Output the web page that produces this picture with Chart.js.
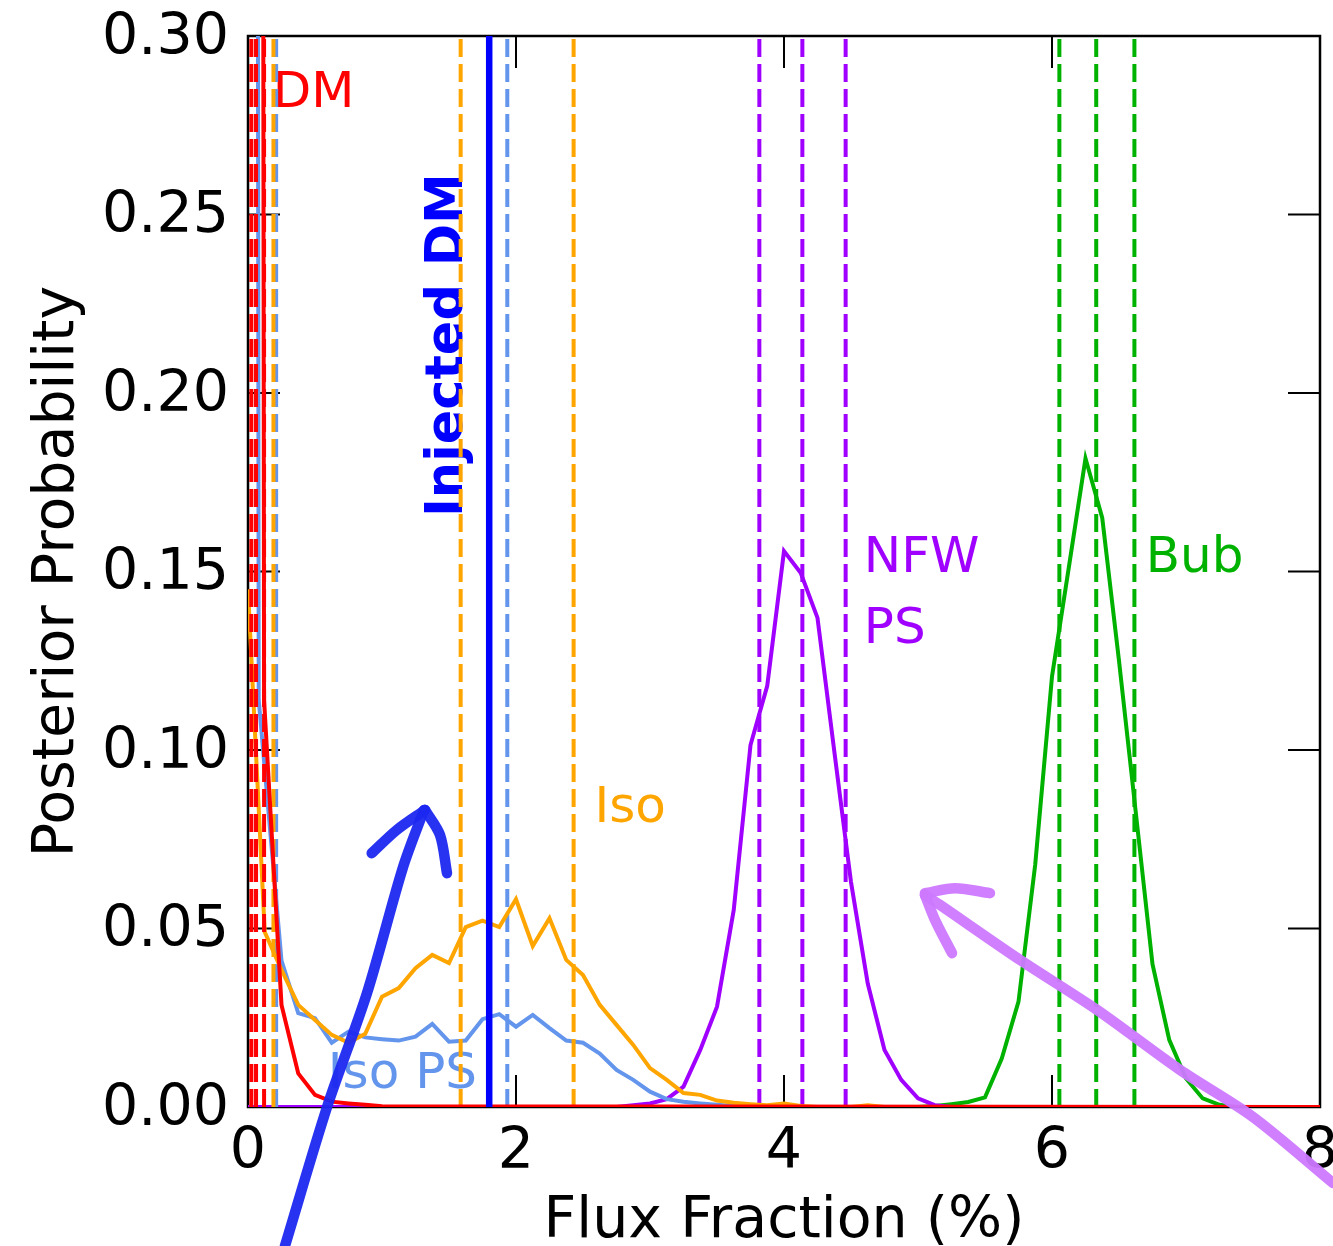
<!DOCTYPE html>
<html>
<head>
<meta charset="utf-8">
<script src="https://cdn.jsdelivr.net/npm/chart.js@4/dist/chart.umd.min.js"></script>
<style>
html,body{margin:0;padding:0;background:#ffffff;}
canvas{display:block;}
</style>
</head>
<body>
<canvas id="c" width="1333" height="1246"></canvas>
<script>
// ---------------- data ----------------
const xTicks = [0, 2, 4, 6, 8];
const yTicks = [0.00, 0.05, 0.10, 0.15, 0.20, 0.25, 0.30];

// DM posterior
const dmX = [0.105, 0.12, 0.25, 0.375, 0.5, 0.625, 0.75, 0.875, 1.0, 8.0];
const dmY = [0.60, 0.114, 0.0286, 0.0094, 0.0034, 0.0015, 0.0010, 0.0006, 0.0002, 0];

// Iso posterior
const isoX = [0, 0.125, 0.25, 0.375, 0.5, 0.625, 0.75, 0.875, 1.0, 1.125, 1.25, 1.375, 1.5, 1.625, 1.75, 1.875, 2.0, 2.125, 2.25, 2.375, 2.5, 2.625, 2.75, 2.875, 3.0, 3.125, 3.25, 3.375, 3.5, 3.625, 3.75, 3.875, 4.0, 4.125, 4.25, 4.5, 4.625, 4.75, 8.0];
const isoY = [0.145, 0.049, 0.0384, 0.0286, 0.0244, 0.0202, 0.0180, 0.0205, 0.0309, 0.0333, 0.0389, 0.0426, 0.0403, 0.0504, 0.0522, 0.0504, 0.0582, 0.0451, 0.0529, 0.0412, 0.0370, 0.0286, 0.0230, 0.0174, 0.0109, 0.0076, 0.0039, 0.0034, 0.0018, 0.0012, 0.0008, 0.0005, 0.0010, 0.0003, 0, 0, 0.0005, 0, 0];

// Iso PS posterior
const isoPsX = [0.065, 0.08, 0.25, 0.375, 0.5, 0.625, 0.75, 0.875, 1.0, 1.125, 1.25, 1.375, 1.5, 1.625, 1.75, 1.875, 2.0, 2.125, 2.25, 2.375, 2.5, 2.625, 2.75, 2.875, 3.0, 3.125, 3.25, 3.375, 3.5, 3.625, 3.75, 8.0];
const isoPsY = [0.60, 0.114, 0.041, 0.0263, 0.0249, 0.0180, 0.0211, 0.0195, 0.0190, 0.0186, 0.0197, 0.0233, 0.0183, 0.0186, 0.0246, 0.0260, 0.0225, 0.0258, 0.0221, 0.0186, 0.0180, 0.0150, 0.0104, 0.0076, 0.0043, 0.0022, 0.0015, 0.0010, 0.0006, 0.0003, 0, 0];

// NFW PS posterior
const nfwX = [0, 2.75, 2.875, 3.0, 3.125, 3.25, 3.375, 3.5, 3.625, 3.75, 3.875, 4.0, 4.125, 4.25, 4.375, 4.5, 4.625, 4.75, 4.875, 5.0, 5.125, 5.25, 8.0];
const nfwY = [0, 0, 0.0005, 0.0010, 0.0022, 0.0057, 0.0160, 0.0281, 0.0552, 0.1014, 0.1180, 0.1557, 0.1496, 0.1370, 0.0997, 0.0630, 0.0346, 0.0160, 0.0076, 0.0024, 0.0005, 0, 0];

// Bubbles posterior
const bubX = [0, 5.0, 5.125, 5.25, 5.375, 5.5, 5.625, 5.75, 5.875, 6.0, 6.125, 6.25, 6.375, 6.5, 6.625, 6.75, 6.875, 7.0, 7.125, 7.25, 7.375, 8.0];
const bubY = [0, 0, 0.0003, 0.0008, 0.0014, 0.0027, 0.0136, 0.0295, 0.0680, 0.1206, 0.1510, 0.1817, 0.1650, 0.1250, 0.0826, 0.0400, 0.0188, 0.0080, 0.0024, 0.0006, 0, 0];

// credible-interval lines (16 / 50 / 84 %)
const dmQuant = [0.025, 0.06, 0.12];
const isoQuant = [0.19, 1.587, 2.43];
const isoPsQuant = [0.06, 0.21, 1.935];
const nfwQuant = [3.816, 4.137, 4.46];
const bubQuant = [6.055, 6.33, 6.615];
const injectedDM = 1.8;

// hand-drawn arrows (data coordinates)
const blueArrowShaftX = [0.276, 0.590, 0.888, 1.157, 1.313];
const blueArrowShaftY = [-0.0389, 0.0, 0.0319, 0.0672, 0.0832];
const blueArrowLeftX = [0.923, 1.110, 1.321];
const blueArrowLeftY = [0.0711, 0.0776, 0.0832];
const blueArrowRightX = [1.321, 1.433, 1.485];
const blueArrowRightY = [0.0832, 0.0762, 0.0655];
const purpleArrowShaftX = [8.097, 7.5, 6.955, 6.336, 5.761, 5.164, 5.052];
const purpleArrowShaftY = [-0.0213, -0.0028, 0.0104, 0.0272, 0.0412, 0.0566, 0.0594];
const purpleArrowTopX = [5.052, 5.276, 5.537];
const purpleArrowTopY = [0.0599, 0.0613, 0.0599];
const purpleArrowLowX = [5.052, 5.127, 5.254];
const purpleArrowLowY = [0.0594, 0.0524, 0.0431];

// ---------------- styling ----------------
const C = {
  dm: '#FF0000', iso: '#FFA500', isoPs: '#6495ED', nfw: '#A000FF', bub: '#00B200',
  inj: '#0000FF', blueArrow: 'rgba(28,40,240,0.95)', purpleArrow: 'rgba(204,120,255,0.95)'
};
const FONT = '"DejaVu Sans", "Liberation Sans", sans-serif';

const pts = (xs, ys) => xs.map((x, i) => ({ x: x, y: ys[i] }));
const vline = (x) => [{ x: x, y: 0 }, { x: x, y: 0.30 }];

const datasets = [];
let ord = 1000;
function addCurve(xs, ys, color, width) {
  datasets.push({ data: pts(xs, ys), borderColor: color, borderWidth: width || 4, showLine: true,
    pointRadius: 0, fill: false, order: ord--, borderJoinStyle: 'miter' });
}
function addQuant(list, color, width) {
  list.forEach(q => datasets.push({ data: vline(q), borderColor: color, borderWidth: width || 4,
    borderDash: [18, 7], showLine: true, pointRadius: 0, fill: false, order: ord-- }));
}
function addArrow(xs, ys, color) {
  datasets.push({ data: pts(xs, ys), borderColor: color, borderWidth: 10.5, showLine: true,
    pointRadius: 0, fill: false, clip: false, borderCapStyle: 'round', borderJoinStyle: 'round',
    tension: 0.3, order: ord-- });
}

addCurve(bubX, bubY, C.bub); addQuant(bubQuant, C.bub);
addCurve(nfwX, nfwY, C.nfw); addQuant(nfwQuant, C.nfw);
addCurve(isoPsX, isoPsY, C.isoPs); addQuant(isoPsQuant, C.isoPs);
addCurve(isoX, isoY, C.iso); addQuant(isoQuant, C.iso);
addCurve(dmX, dmY, C.dm); addQuant(dmQuant, C.dm);
datasets.push({ data: vline(injectedDM), borderColor: C.inj, borderWidth: 6.5, showLine: true,
  pointRadius: 0, fill: false, order: ord-- });
addArrow(blueArrowShaftX, blueArrowShaftY, C.blueArrow);
addArrow(blueArrowLeftX, blueArrowLeftY, C.blueArrow);
addArrow(blueArrowRightX, blueArrowRightY, C.blueArrow);
addArrow(purpleArrowShaftX, purpleArrowShaftY, C.purpleArrow);
addArrow(purpleArrowTopX, purpleArrowTopY, C.purpleArrow);
addArrow(purpleArrowLowX, purpleArrowLowY, C.purpleArrow);

// text annotations (data coordinates, alphabetic baseline, left aligned)
const annotations = [
  { text: 'DM', x: 0.185, y: 0.2802, color: C.dm },
  { text: 'Iso', x: 2.585, y: 0.0798, color: C.iso },
  { text: 'NFW', x: 4.595, y: 0.1499, color: C.nfw },
  { text: 'PS', x: 4.595, y: 0.1300, color: C.nfw },
  { text: 'Bub', x: 6.70, y: 0.1499, color: C.bub },
  { text: 'Iso PS', x: 0.596, y: 0.0052, color: C.isoPs }
];
const injLabel = { text: 'Injected DM', x: 1.595, y: 0.2134, color: C.inj };

const framePlugin = {
  id: 'frame',
  beforeDatasetsDraw(chart) {
    const { ctx, chartArea: a, scales: { x, y } } = chart;
    ctx.save();
    // text annotations (under the lines)
    ctx.textBaseline = 'alphabetic';
    ctx.textAlign = 'left';
    ctx.font = '50px ' + FONT;
    annotations.forEach(t => {
      ctx.fillStyle = t.color;
      ctx.fillText(t.text, x.getPixelForValue(t.x), y.getPixelForValue(t.y));
    });
    ctx.save();
    ctx.translate(x.getPixelForValue(injLabel.x), y.getPixelForValue(injLabel.y));
    ctx.rotate(-Math.PI / 2);
    ctx.textAlign = 'center';
    ctx.font = 'bold 51px ' + FONT;
    ctx.fillStyle = injLabel.color;
    ctx.fillText(injLabel.text, 0, 0);
    ctx.restore();

    // axis titles
    ctx.fillStyle = '#000';
    ctx.font = '57px ' + FONT;
    ctx.textAlign = 'center';
    ctx.textBaseline = 'alphabetic';
    ctx.fillText('Flux Fraction (%)', (a.left + a.right) / 2, a.bottom + 130);
    ctx.save();
    ctx.translate(58, (a.top + a.bottom) / 2);
    ctx.rotate(-Math.PI / 2);
    ctx.textBaseline = 'middle';
    ctx.fillText('Posterior Probability', 0, 0);
    ctx.restore();

    // inward ticks on all four sides
    ctx.strokeStyle = '#000';
    ctx.lineWidth = 2;
    const L = 32;
    ctx.beginPath();
    xTicks.forEach(v => {
      const px = x.getPixelForValue(v);
      ctx.moveTo(px, a.bottom); ctx.lineTo(px, a.bottom - L);
      ctx.moveTo(px, a.top); ctx.lineTo(px, a.top + L);
    });
    yTicks.forEach(v => {
      const py = y.getPixelForValue(v);
      ctx.moveTo(a.left, py); ctx.lineTo(a.left + L, py);
      ctx.moveTo(a.right, py); ctx.lineTo(a.right - L, py);
    });
    ctx.stroke();
    // frame
    ctx.lineWidth = 2.5;
    ctx.strokeRect(a.left, a.top, a.right - a.left, a.bottom - a.top);
    ctx.restore();
  }
};

new Chart(document.getElementById('c'), {
  type: 'scatter',
  data: { datasets: datasets },
  options: {
    responsive: false,
    animation: false,
    devicePixelRatio: 1,
    layout: { padding: { left: 0, right: 13, top: 36, bottom: 0 } },
    plugins: { legend: { display: false }, tooltip: { enabled: false } },
    elements: { line: { tension: 0 } },
    scales: {
      x: {
        type: 'linear', min: 0, max: 8,
        grid: { display: false, drawTicks: false },
        border: { display: false },
        afterBuildTicks: s => { s.ticks = xTicks.map(v => ({ value: v })); },
        ticks: { color: '#000', font: { family: FONT, size: 57 }, padding: 12, maxRotation: 0,
          callback: v => String(v) },
        afterFit: s => { s.height = 139; s.paddingLeft = 0; s.paddingRight = 0; }
      },
      y: {
        type: 'linear', min: 0, max: 0.30,
        grid: { display: false, drawTicks: false },
        border: { display: false },
        afterBuildTicks: s => { s.ticks = yTicks.map(v => ({ value: v })); },
        ticks: { color: '#000', font: { family: FONT, size: 57 }, padding: 19, labelOffset: 3,
          callback: v => Number(v).toFixed(2) },
        afterFit: s => { s.width = 248; s.paddingTop = 0; s.paddingBottom = 0; }
      }
    }
  },
  plugins: [framePlugin]
});
</script>
</body>
</html>
